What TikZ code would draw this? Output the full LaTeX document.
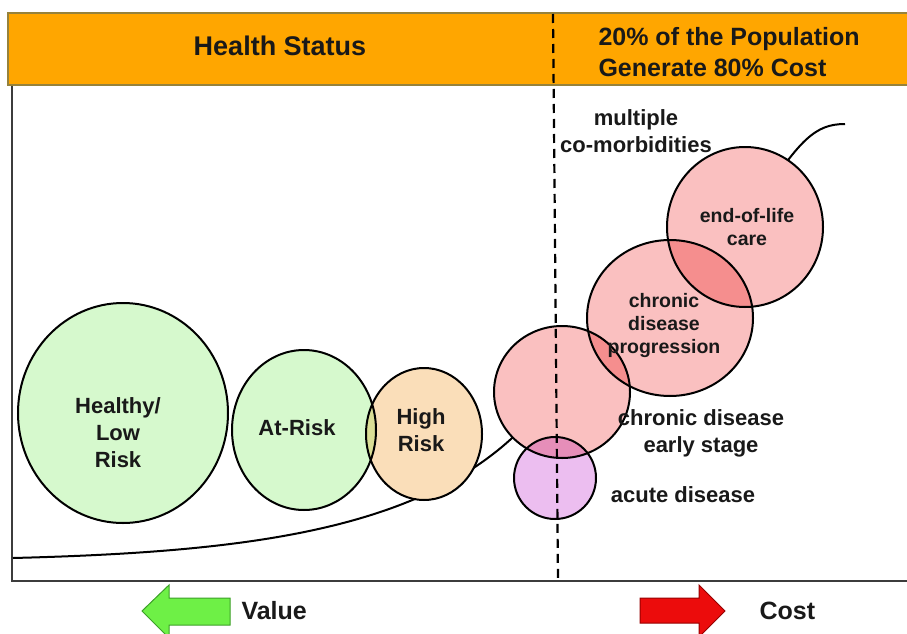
\documentclass[tikz,border=0pt]{standalone}
\usepackage{fontspec}
\setmainfont{Liberation Sans}
\definecolor{hdrorange}{RGB}{255,166,0}
\definecolor{hdrline}{RGB}{150,130,60}
\definecolor{axisgray}{RGB}{60,60,60}
\definecolor{txtgray}{RGB}{25,25,25}
\definecolor{bubgreen}{RGB}{214,249,205}
\definecolor{bubpeach}{RGB}{250,222,185}
\definecolor{bubpink}{RGB}{250,192,192}
\definecolor{bubviolet}{RGB}{236,190,240}
\definecolor{mixgp}{RGB}{218,222,150}
\definecolor{mixpink}{RGB}{245,142,142}
\definecolor{mixpv}{RGB}{230,142,185}
\definecolor{arrgreen}{RGB}{110,240,70}
\definecolor{arrgreenline}{RGB}{60,160,40}
\definecolor{arrred}{RGB}{236,12,12}
\definecolor{arrredline}{RGB}{150,0,0}
\begin{document}
\begin{tikzpicture}[x=1pt, y=-1pt,
  bubble/.style={draw=black, line width=2pt},
  lbl/.style={font=\bfseries\fontsize{22}{27}\selectfont, align=center, text=txtgray},
  smalllbl/.style={font=\bfseries\fontsize{19.5}{23}\selectfont, align=center, text=txtgray},
  hdr/.style={font=\bfseries\fontsize{25}{31}\selectfont, text=txtgray}]
\useasboundingbox (0,0) rectangle (907,634);
% header bar and frame
\draw[hdrline, fill=hdrorange, line width=1.2pt] (907,85) -- (8,85) -- (8,13) -- (907,13);
\draw[axisgray, line width=2.4pt] (12,86) -- (12,581) -- (907,581);
% cost curve, hidden behind the bubbles
\draw[line width=2pt] (13,558) .. controls (250,552) and (430,530) .. (530,420);
\draw[line width=2pt] (760,200) .. controls (800,140) and (815,124) .. (845,124);
% bubbles
\coordinate (healthy) at (123,413);
\coordinate (atrisk) at (304,430);
\coordinate (highrisk) at (424,434);
\coordinate (early) at (562,392);
\coordinate (acute) at (555,478);
\coordinate (progr) at (670,318);
\coordinate (endlife) at (745,227);
\foreach \c/\rx/\ry/\col in {healthy/105/110/bubgreen, atrisk/72/80/bubgreen, highrisk/58/66/bubpeach,
    early/68/66/bubpink, acute/41/41/bubviolet, progr/83/78/bubpink, endlife/78/80/bubpink}
  \fill[\col] (\c) ellipse [x radius=\rx, y radius=\ry];
\begin{scope}
  \clip (atrisk) ellipse [x radius=72, y radius=80];
  \fill[mixgp] (highrisk) ellipse [x radius=58, y radius=66];
\end{scope}
\begin{scope}
  \clip (early) ellipse [x radius=68, y radius=66];
  \fill[mixpink] (progr) ellipse [x radius=83, y radius=78];
  \fill[mixpv] (acute) ellipse [x radius=41, y radius=41];
\end{scope}
\begin{scope}
  \clip (progr) ellipse [x radius=83, y radius=78];
  \fill[mixpink] (endlife) ellipse [x radius=78, y radius=80];
\end{scope}
\foreach \c/\rx/\ry in {healthy/105/110, atrisk/72/80, highrisk/58/66,
    early/68/66, acute/41/41, progr/83/78, endlife/78/80}
  \draw[bubble] (\c) ellipse [x radius=\rx, y radius=\ry];
% divider
\coordinate (divtop) at (553,14);
\coordinate (divbot) at (558,581);
\draw[black, line width=2.2pt, dash pattern=on 9pt off 6pt] (divtop) -- (divbot);
% labels
\node[hdr] (status) at (280,46) {\fontsize{27}{31}\selectfont Health Status};
\node[hdr, align=left, anchor=west] (pareto) at (595,52) {20\% of the Population\\Generate 80\% Cost};
\node[lbl] (healthytxt) at (118,433) {Healthy/\\Low\\Risk};
\node[lbl] (atrisktxt) at (297,428) {At-Risk};
\node[lbl] (highrisktxt) at (421,430) {High\\Risk};
\node[smalllbl] (endlifetxt) at (747,227) {end-of-life\\care};
\node[smalllbl] (progrtxt) at (664,325) {chronic\\disease\\progression};
\node[lbl] (multitxt) at (636,131) {multiple\\co-morbidities};
\node[lbl] (earlytxt) at (701,433) {chronic disease\\early stage};
\node[lbl] (acutetxt) at (683,495) {acute disease};
% value / cost arrows
\draw[arrgreenline, fill=arrgreen, line width=1pt] (142,611) -- (169,585) -- (169,598) -- (230,598)
  -- (230,625) -- (169,625) -- (169,638) -- cycle;
\draw[arrredline, fill=arrred, line width=1pt] (640,598) -- (699,598) -- (699,585) -- (725,611)
  -- (699,637) -- (699,623) -- (640,623) -- cycle;
\node[hdr, anchor=west] (valuetxt) at (238,611) {Value};
\node[hdr, anchor=west] (costtxt) at (756,611) {Cost};
\end{tikzpicture}
\end{document}
